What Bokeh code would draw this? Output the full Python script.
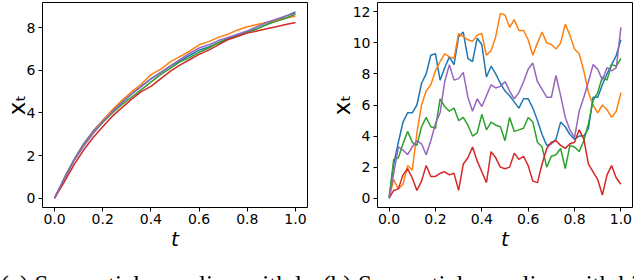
from bokeh.plotting import figure
from bokeh.layouts import row, column
from bokeh.models import Label, FixedTicker, Range1d, PrintfTickFormatter
from bokeh.embed import file_html
from bokeh.resources import INLINE

# ---------------- data ----------------
COLORS = ["#1f77b4", "#ff7f0e", "#2ca02c", "#d62728", "#9467bd"]

# (a) low noise: time grid and five sample paths
t_low = [0.00, 0.04, 0.08, 0.12, 0.16, 0.20, 0.24, 0.28, 0.32, 0.36, 0.40, 0.44, 0.48,
         0.52, 0.56, 0.60, 0.64, 0.68, 0.72, 0.76, 0.80, 0.84, 0.88, 0.92, 0.96, 1.00]
low_blue = [0, 0.95, 1.8, 2.55, 3.15, 3.65, 4.1, 4.5, 4.9, 5.25, 5.6, 5.9, 6.2,
            6.45, 6.7, 6.95, 7.1, 7.3, 7.5, 7.65, 7.8, 7.95, 8.15, 8.35, 8.55, 8.75]
low_orange = [0, 0.9, 1.75, 2.5, 3.1, 3.65, 4.15, 4.6, 5.0, 5.35, 5.8, 6.05, 6.4,
              6.65, 6.9, 7.2, 7.35, 7.55, 7.7, 7.9, 8.05, 8.15, 8.25, 8.35, 8.45, 8.55]
low_green = [0, 0.9, 1.75, 2.45, 3.05, 3.55, 4.0, 4.4, 4.75, 5.1, 5.45, 5.8, 6.1,
             6.4, 6.6, 6.85, 7.05, 7.3, 7.45, 7.6, 7.8, 7.95, 8.15, 8.3, 8.45, 8.65]
low_red = [0, 0.75, 1.55, 2.25, 2.85, 3.35, 3.85, 4.25, 4.65, 5.0, 5.25, 5.6, 5.95,
           6.25, 6.5, 6.75, 6.95, 7.2, 7.45, 7.6, 7.75, 7.85, 7.95, 8.05, 8.15, 8.25]
low_purple = [0, 0.9, 1.75, 2.45, 3.05, 3.6, 4.05, 4.5, 4.9, 5.25, 5.6, 5.9, 6.2,
              6.5, 6.8, 7.05, 7.2, 7.4, 7.55, 7.7, 7.85, 8.05, 8.25, 8.4, 8.55, 8.7]

# (b) high noise
t_high = [0.00, 0.02, 0.04, 0.06, 0.08, 0.10, 0.12, 0.14, 0.16, 0.18, 0.20, 0.22, 0.24,
          0.26, 0.28, 0.30, 0.32, 0.34, 0.36, 0.38, 0.40, 0.42, 0.44, 0.46, 0.48, 0.50,
          0.52, 0.54, 0.56, 0.58, 0.60, 0.62, 0.64, 0.66, 0.68, 0.70, 0.72, 0.74, 0.76,
          0.78, 0.80, 0.82, 0.84, 0.86, 0.88, 0.90, 0.92, 0.94, 0.96, 0.98, 1.00]
high_blue = [0.0, 2.2, 3.6, 4.9, 5.5, 5.5, 6.0, 7.4, 8.0, 9.2, 9.3, 7.6, 8.4,
             9.1, 8.6, 10.4, 10.7, 9.0, 8.8, 10.3, 9.9, 7.8, 8.5, 8.0, 7.4, 6.9,
             6.6, 6.2, 5.8, 6.4, 6.4, 5.8, 5.0, 4.1, 3.4, 3.5, 3.8, 4.9, 4.6,
             4.1, 3.8, 4.0, 4.0, 4.5, 6.5, 6.5, 7.3, 8.0, 8.6, 9.2, 10.2]
high_orange = [0.0, 1.2, 0.6, 0.9, 2.1, 1.8, 4.2, 6.0, 6.9, 7.3, 8.2, 8.8, 9.3,
               9.1, 9.0, 10.6, 10.4, 10.2, 10.1, 10.5, 10.6, 9.2, 9.5, 10.4, 11.9, 11.8,
               11.0, 11.5, 10.8, 10.8, 10.2, 9.2, 10.0, 10.7, 10.0, 9.9, 9.6, 10.0, 11.2,
               10.5, 9.6, 9.3, 8.2, 6.8, 6.0, 5.5, 6.0, 5.7, 5.2, 5.6, 6.8]
high_green = [0.0, 2.5, 2.6, 3.5, 4.3, 3.6, 3.4, 4.6, 5.2, 4.6, 4.5, 6.4, 5.9,
              5.6, 5.8, 5.0, 5.2, 4.7, 4.0, 4.2, 5.4, 4.4, 4.9, 4.7, 4.6, 3.7,
              5.2, 4.3, 4.4, 4.5, 5.2, 4.9, 3.6, 3.3, 2.0, 2.7, 2.8, 3.2, 1.9,
              3.4, 3.3, 3.0, 3.7, 4.8, 6.3, 6.8, 7.8, 7.6, 8.6, 8.5, 9.0]
high_red = [0.0, 0.5, 0.6, 1.5, 1.9, 1.3, 0.5, 1.1, 2.1, 1.4, 1.4, 1.6, 1.7,
            1.5, 1.6, 0.5, 2.2, 2.6, 3.3, 2.4, 1.7, 1.0, 3.0, 2.6, 2.0, 1.9,
            2.0, 2.9, 2.5, 2.7, 2.1, 1.1, 1.0, 2.2, 3.2, 3.6, 3.7, 3.4, 3.2,
            3.5, 3.6, 4.4, 3.8, 2.2, 1.7, 1.2, 0.2, 1.5, 2.1, 1.3, 0.9]
high_purple = [0.0, 1.6, 3.3, 3.1, 2.8, 3.3, 3.7, 3.5, 2.8, 3.7, 4.8, 5.5, 7.5,
               8.6, 7.6, 7.7, 8.1, 6.5, 5.6, 6.4, 5.9, 6.6, 7.3, 7.1, 7.2, 7.5,
               6.9, 6.4, 6.8, 7.5, 8.3, 8.7, 7.5, 7.0, 6.5, 6.5, 7.9, 6.6, 5.2,
               4.4, 3.9, 5.6, 6.5, 7.5, 8.6, 8.3, 7.6, 8.4, 8.2, 8.4, 11.0]

x_ticks = [0.0, 0.2, 0.4, 0.6, 0.8, 1.0]
y_ticks_low = [0, 2, 4, 6, 8]
y_ticks_high = [0, 2, 4, 6, 8, 10, 12]

x_label = "t"
y_label = "x\u209c"
caption_a = "(a) Sequential sampling with low"
caption_b = "(b) Sequential sampling with hi"

# ---------------- drawing ----------------
H_MAIN = 268
H_CAP = 12
FRAME_TOP = 2
FRAME_BOTTOM = 207
TICK_FONT = "DejaVu Sans"


def make_fig(width, ml, mr, y_range, y_ticks, ylab_standoff):
    p = figure(width=width, height=H_MAIN, x_range=Range1d(-0.05, 1.05),
               y_range=Range1d(*y_range), output_backend="svg",
               toolbar_location=None, min_border_left=ml, min_border_right=mr,
               min_border_top=FRAME_TOP, min_border_bottom=H_MAIN - FRAME_BOTTOM)
    p.grid.visible = False
    p.background_fill_color = "white"
    p.border_fill_color = "white"
    p.outline_line_color = "black"
    p.outline_line_width = 1
    p.outline_line_alpha = 1
    for ax in (p.xaxis[0], p.yaxis[0]):
        ax.axis_line_color = None
        ax.major_tick_in = 0
        ax.major_tick_out = 4
        ax.major_tick_line_color = "black"
        ax.minor_tick_line_color = None
        ax.major_label_text_font = TICK_FONT
        ax.major_label_text_font_size = "14px"
        ax.major_label_text_color = "black"
        ax.axis_label_text_font = TICK_FONT
        ax.axis_label_text_color = "black"
    xa, ya = p.xaxis[0], p.yaxis[0]
    xa.ticker = FixedTicker(ticks=x_ticks)
    xa.formatter = PrintfTickFormatter(format="%.1f")
    xa.major_label_standoff = 2
    xa.axis_label = x_label
    xa.axis_label_text_font_style = "italic"
    xa.axis_label_text_font_size = "20px"
    xa.axis_label_standoff = 0
    ya.ticker = FixedTicker(ticks=y_ticks)
    ya.formatter = PrintfTickFormatter(format="%d")
    ya.major_label_standoff = 3
    ya.axis_label = y_label
    ya.axis_label_text_font_style = "normal"
    ya.axis_label_text_font_size = "23px"
    ya.axis_label_standoff = ylab_standoff
    return p


def make_caption(width, text, dx):
    c = figure(width=width, height=H_CAP, x_range=Range1d(0, 1), y_range=Range1d(0, 1),
               output_backend="svg", toolbar_location=None,
               x_axis_type=None, y_axis_type=None,
               min_border_left=0, min_border_right=0, min_border_top=0, min_border_bottom=0)
    c.grid.visible = False
    c.outline_line_color = None
    c.background_fill_color = "white"
    c.border_fill_color = "white"
    c.add_layout(Label(x=dx, y=-4, x_units="screen", y_units="screen", text=text,
                       text_font="Liberation Serif", text_font_size="25px",
                       text_align="left", text_baseline="alphabetic",
                       text_color="black"))
    return c


# left panel (page x 0..325, frame 42..307)
p1 = make_fig(325, 42, 18, (-0.4375, 9.1875), y_ticks_low, -6)
for ys, col in zip([low_blue, low_orange, low_green, low_red, low_purple], COLORS):
    p1.line(t_low, ys, line_color=col, line_width=1.5)

# right panel (page x 325..634, frame 377..632)
p2 = make_fig(309, 52, 2, (-0.6, 12.6), y_ticks_high, -5)
for ys, col in zip([high_blue, high_orange, high_green, high_red, high_purple], COLORS):
    p2.line(t_high, ys, line_color=col, line_width=1.5)

c1 = make_caption(320, caption_a, 0)
c2 = make_caption(314, caption_b, 2)

layout = column(row(p1, p2), row(c1, c2))
open("out.html", "w").write(file_html(layout, INLINE))
